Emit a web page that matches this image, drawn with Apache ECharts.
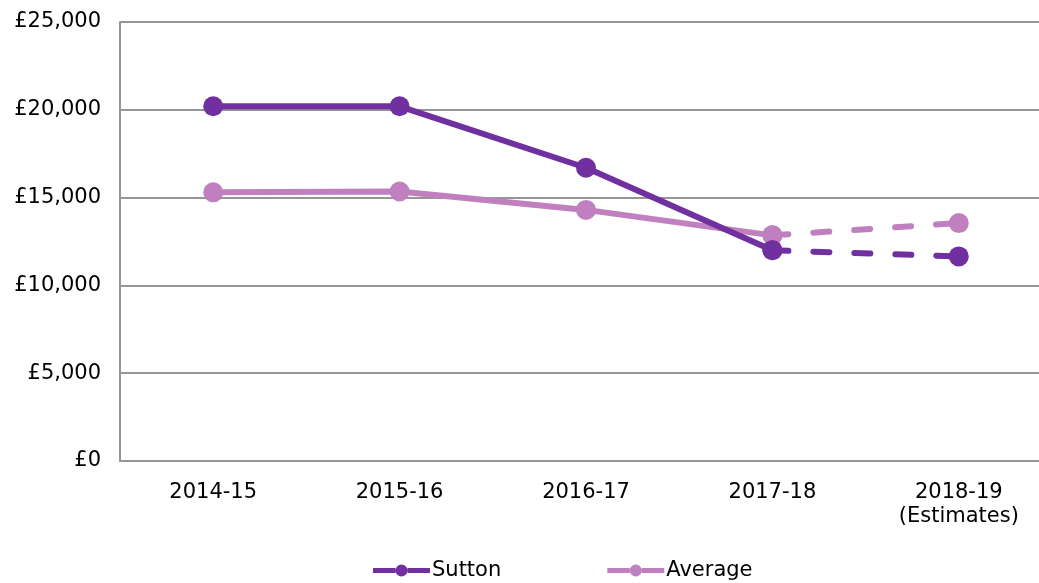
<!DOCTYPE html>
<html>
<head>
<meta charset="utf-8">
<script src="https://cdn.jsdelivr.net/npm/echarts@6/dist/echarts.min.js"></script>
<style>html,body{margin:0;padding:0;background:#fff}#c{width:1039px;height:583px}</style>
</head>
<body>
<div id="c"></div>
<script>
const categories = ['2014-15', '2015-16', '2016-17', '2017-18', '2018-19\n(Estimates)'];
const suttonActual = [20200, 20200, 16700, 12000, null];
const suttonEstimate = [null, null, null, 12000, 11650];
const averageActual = [15300, 15350, 14300, 12850, null];
const averageEstimate = [null, null, null, 12850, 13550];
const yTicks = { min: 0, max: 25000, interval: 5000 };

const SUTTON = '#7030A0';
const AVG = '#C080C0';
const font = 'DejaVu Sans, Verdana, sans-serif';
const legendIcon = 'path://M0,3.5 L22.5,3.5 L22.5,8.5 L0,8.5 Z M34.5,3.5 L57,3.5 L57,8.5 L34.5,8.5 Z M22.5,6 A6,6 0 1,1 34.5,6 A6,6 0 1,1 22.5,6 Z';

const chart = echarts.init(document.getElementById('c'), null, { renderer: 'canvas' });

function series(name, data, color, dashed, z) {
  return {
    name: name,
    type: 'line',
    data: data,
    symbol: 'circle',
    symbolSize: 20,
    showSymbol: true,
    connectNulls: false,
    z: z,
    itemStyle: { color: color },
    lineStyle: { color: color, width: 6, type: dashed ? [16, 25] : 'solid', cap: 'round' },
    emphasis: { disabled: true },
    animation: false
  };
}

chart.setOption({
  animation: false,
  grid: { left: 120, top: 22, width: 932, height: 439, outerBoundsMode: 'none' },
  legend: {
    bottom: -3,
    left: 368,
    itemWidth: 57,
    itemHeight: 12,
    itemGap: 106,
    data: [
      { name: 'Sutton', icon: legendIcon },
      { name: 'Average', icon: legendIcon }
    ],
    textStyle: { fontFamily: font, fontSize: 21, color: '#000', padding: [0, 0, 0, -3] },
    selectedMode: false
  },
  xAxis: {
    type: 'category',
    data: categories,
    boundaryGap: true,
    axisLine: { show: true, lineStyle: { color: '#959595', width: 2 } },
    axisTick: { show: false },
    axisLabel: { fontFamily: font, fontSize: 21, color: '#000', margin: 20, lineHeight: 24 }
  },
  yAxis: {
    type: 'value',
    min: yTicks.min,
    max: yTicks.max,
    interval: yTicks.interval,
    axisLine: { show: true, lineStyle: { color: '#959595', width: 2 } },
    axisTick: { show: false },
    splitLine: { show: true, lineStyle: { color: '#959595', width: 2 } },
    axisLabel: {
      fontFamily: font, fontSize: 21, color: '#000', margin: 19,
      formatter: v => '£' + v.toLocaleString('en-GB')
    }
  },
  series: [
    series('Average', averageActual, AVG, false, 2),
    series('Average', averageEstimate, AVG, true, 2),
    series('Sutton', suttonActual, SUTTON, false, 3),
    series('Sutton', suttonEstimate, SUTTON, true, 3)
  ]
});
</script>
</body>
</html>
